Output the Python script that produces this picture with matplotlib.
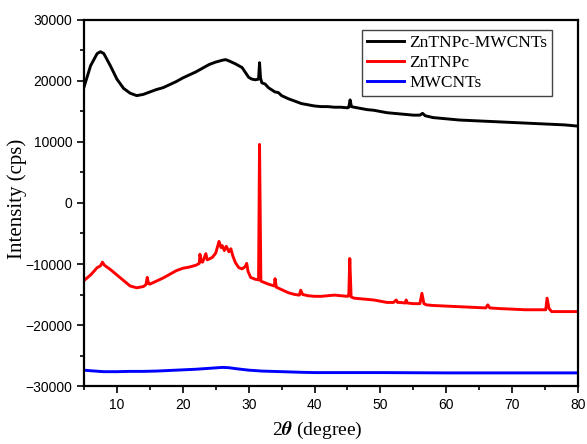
import matplotlib
matplotlib.use("Agg")
import matplotlib.pyplot as plt
from matplotlib.ticker import MultipleLocator

# ZnTNPc-MWCNTs composite
comp_x = [5, 6, 7, 7.5, 8, 9, 10, 11, 12, 13, 14, 15, 16, 17, 18, 19, 20, 21, 22, 23,
          24, 25, 26, 26.5, 27, 28, 29, 29.5, 30, 30.5, 31, 31.5, 31.65, 31.8, 32, 32.5,
          33, 34, 34.5, 35, 36, 37, 38, 39, 40, 41, 42, 43, 44, 45, 45.2, 45.4, 45.6,
          46, 47, 48, 49, 50, 51, 52, 53, 54, 55, 56, 56.4, 56.8, 58, 60, 62, 64, 66,
          68, 70, 72, 74, 76, 78, 80]
comp_y = [19000, 22500, 24500, 24800, 24500, 22500, 20300, 18800, 18000, 17600, 17800,
          18200, 18600, 18900, 19400, 19900, 20500, 21000, 21500, 22100, 22700, 23100,
          23400, 23500, 23300, 22800, 22200, 21400, 20600, 20300, 20200, 20300, 23000,
          20500, 19700, 19500, 18900, 18200, 18100, 17600, 17100, 16700, 16300, 16100,
          15900, 15800, 15800, 15700, 15700, 15600, 15700, 16900, 15800, 15700, 15500,
          15300, 15200, 15000, 14800, 14700, 14600, 14500, 14400, 14400, 14700, 14300,
          14000, 13800, 13600, 13500, 13400, 13300, 13200, 13100, 13000, 12900, 12800,
          12600]

# ZnTNPc
pc_x = [5, 6, 7, 7.5, 7.8, 8.1, 9, 10, 11, 12, 13, 14, 14.4, 14.6, 14.8, 15, 16, 17,
        18, 19, 20, 21, 22, 22.5, 22.6, 22.8, 23, 23.5, 23.7, 24, 24.5, 25, 25.5, 25.8,
        26, 26.3, 26.6, 27, 27.3, 27.6, 28, 28.5, 29, 29.5, 29.7, 29.9, 30.3, 31, 31.5,
        31.65, 31.85, 32.3, 33, 33.9, 34.0, 34.2, 35, 36, 37, 37.7, 37.9, 38.2, 39, 40,
        41, 42, 43, 44, 45, 45.2, 45.35, 45.55, 46, 47, 48, 49, 50, 51, 52, 52.4, 52.6,
        53, 53.8, 53.9, 54.1, 55, 56, 56.3, 56.6, 57, 58, 60, 62, 64, 66, 66.3, 66.6,
        68, 70, 72, 74, 75.1, 75.3, 75.6, 76, 78, 80]
pc_y = [-12700, -11800, -10600, -10300, -9700, -10200, -10900, -11800, -12700, -13600,
        -13900, -13700, -13400, -12200, -13200, -13300, -12800, -12300, -11700, -11100,
        -10700, -10500, -10200, -9900, -8400, -9600, -9700, -8300, -9300, -9200, -8900,
        -8200, -6300, -7300, -7000, -7800, -7100, -8000, -7500, -8700, -9800, -10600,
        -10800, -10400, -9900, -11200, -12200, -12500, -12600, 9600, -12800, -13000,
        -13300, -13600, -12400, -13800, -14200, -14700, -15000, -15100, -14300, -15000,
        -15200, -15300, -15300, -15200, -15100, -15200, -15300, -15200, -9100, -15400,
        -15600, -15700, -15800, -15900, -16100, -16300, -16300, -15900, -16300, -16300,
        -16400, -15900, -16400, -16500, -16500, -14800, -16500, -16700, -16800, -16900,
        -17000, -17100, -17200, -16700, -17200, -17300, -17400, -17500, -17500, -17500,
        -15600, -17300, -17800, -17800, -17800]

# MWCNTs
cnt_x = [5, 6, 8, 10, 12, 14, 16, 18, 20, 22, 24, 26, 27, 28, 30, 32, 35, 38, 40, 50,
         60, 70, 80]
cnt_y = [-27400, -27500, -27650, -27650, -27600, -27600, -27550, -27450, -27350, -27250,
         -27100, -26950, -27000, -27150, -27400, -27550, -27650, -27750, -27800, -27800,
         -27850, -27850, -27850]

labels = ["ZnTNPc-MWCNTs", "ZnTNPc", "MWCNTs"]
plt.rcParams["mathtext.fontset"] = "stix"

fig = plt.figure(figsize=(5.87, 4.44), dpi=100)
ax = fig.add_axes([0.1431, 0.1306, 0.8416, 0.8244])

ax.plot(comp_x, comp_y, color="black", lw=2.1, label=labels[0])
ax.plot(pc_x, pc_y, color="red", lw=2.1, label=labels[1])
ax.plot(cnt_x, cnt_y, color="blue", lw=2.1, label=labels[2])

ax.set_xlim(5, 80)
ax.set_ylim(-30000, 30000)
ax.xaxis.set_major_locator(MultipleLocator(10))
ax.xaxis.set_minor_locator(MultipleLocator(5))
ax.yaxis.set_major_locator(MultipleLocator(10000))
ax.yaxis.set_minor_locator(MultipleLocator(5000))
ax.tick_params(which="both", direction="out", top=False, right=False, width=1.2)
ax.tick_params(which="major", length=5, labelsize=10)
ax.tick_params(which="minor", length=3)
for lab in ax.get_xticklabels() + ax.get_yticklabels():
    lab.set_family("Liberation Sans")
for sp in ax.spines.values():
    sp.set_linewidth(1.6)

ax.set_xlabel(r"2$\boldsymbol{\theta}$ (degree)", family="Liberation Serif", fontsize=14)
ax.set_ylabel("Intensity (cps)", family="Liberation Serif", fontsize=15)
ax.xaxis.set_label_coords(0.472, -0.092)
ax.yaxis.set_label_coords(-0.115, 0.51)

leg = ax.legend(loc="upper right", bbox_to_anchor=(0.948, 0.973), borderaxespad=0,
                prop={"family": "Liberation Serif", "size": 12.5},
                fancybox=False, framealpha=1, edgecolor="#444444",
                handlelength=2.1, borderpad=0.3, labelspacing=0.22, handletextpad=0.3)
leg.get_frame().set_linewidth(1.0)

fig.savefig("out.png", dpi=100)
